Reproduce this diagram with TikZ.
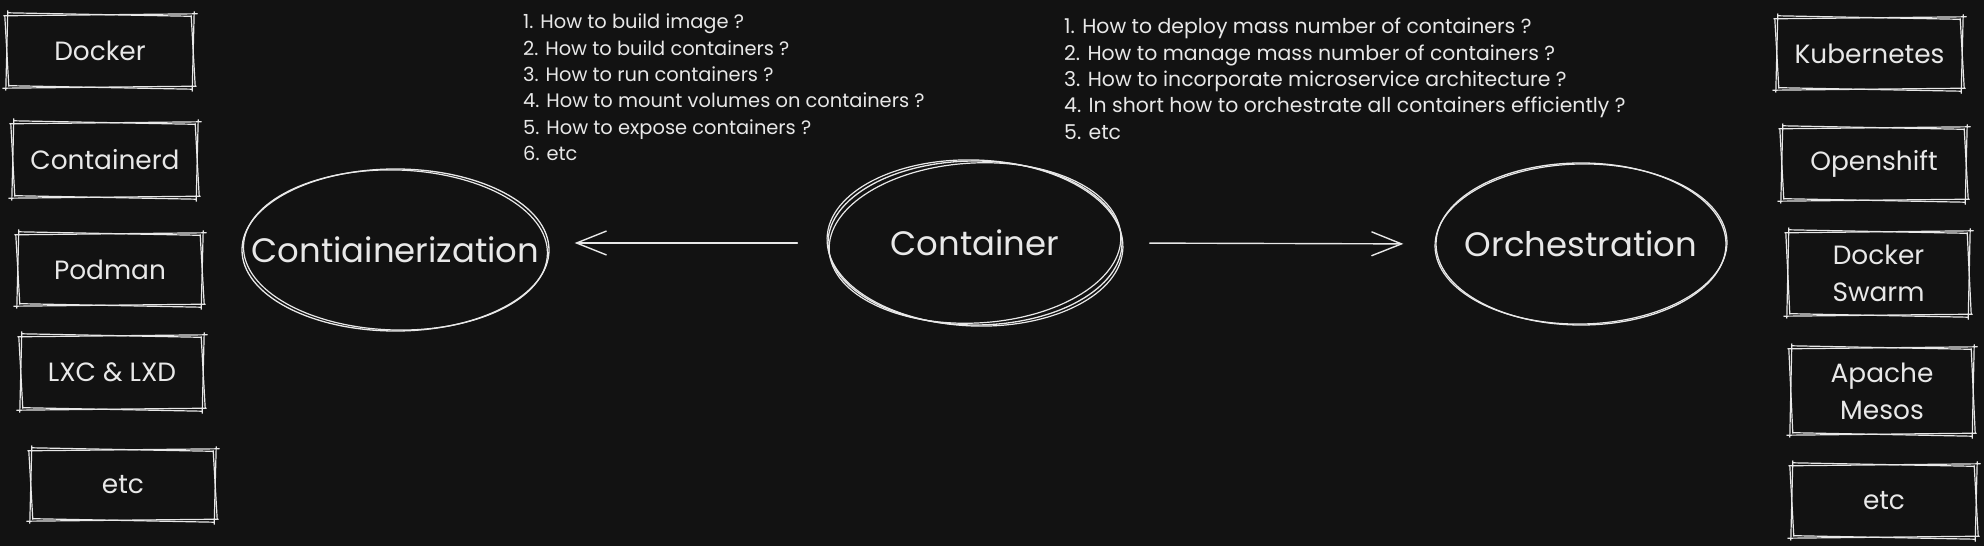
\documentclass[tikz,border=0pt]{standalone}
\usepackage{fontspec}
\setmainfont{Poppins}
\usetikzlibrary{arrows.meta,shapes.geometric}
\definecolor{bg}{HTML}{121212}
\definecolor{ink}{HTML}{E8E8E8}
\newcommand\boxfont{\fontsize{26.5}{37}\selectfont}
\newcommand\ellfont{\fontsize{34}{38}\selectfont}
\newcommand\lstfonta{\fontsize{19.5}{26}\selectfont}
\newcommand\lstfontb{\fontsize{20.5}{26}\selectfont}
\tikzset{
  skline/.style={draw=ink, line width=1.2bp, line cap=round},
  box/.style={rectangle, inner sep=0pt, align=center, text=ink, font=\boxfont},
  oval/.style={ellipse, draw=ink, line width=1.3bp, inner sep=0pt, text=ink, font=\ellfont},
  lst/.style={inner sep=0pt, anchor=base west, text=ink},
  arr/.style={draw=ink, line width=1.4bp, line cap=round,
    -{Straight Barb[length=30bp, width=24bp, line width=1.4bp]}},
}
\newcommand\sketchbox[1]{%
  \draw[skline] ([shift={(-3,1)}]#1.north west) -- ([shift={(4,-1)}]#1.north east);
  \draw[skline] ([shift={(1,-3)}]#1.north east) -- ([shift={(-1,4)}]#1.south east);
  \draw[skline] ([shift={(3,-1)}]#1.south east) -- ([shift={(-4,1)}]#1.south west);
  \draw[skline] ([shift={(-1,3)}]#1.south west) -- ([shift={(1,-4)}]#1.north west);
  \draw[skline] ([shift={(1,-2)}]#1.north west) -- ([shift={(-2,1.5)}]#1.north east);
  \draw[skline] ([shift={(-2,1)}]#1.north east) -- ([shift={(2,-1)}]#1.south east);
  \draw[skline] ([shift={(-1,2)}]#1.south east) -- ([shift={(2,-1.5)}]#1.south west);
  \draw[skline] ([shift={(2,-1)}]#1.south west) -- ([shift={(-2,1)}]#1.north west);
}
\begin{document}
\begin{tikzpicture}[x=1bp, y=-1bp]
\fill[bg] (0,0) rectangle (1984,546);
\useasboundingbox (0,0) rectangle (1984,546);

% left column
\node[box, minimum width=186bp, minimum height=72bp] (docker) at (100,51) {Docker};
\node[box, minimum width=184bp, minimum height=74bp] (containerd) at (105,160) {Containerd};
\node[box, minimum width=184bp, minimum height=71bp] (podman) at (110,269.5) {Podman};
\node[box, minimum width=182bp, minimum height=73bp] (lxc) at (112,372.5) {LXC \& LXD};
\node[box, minimum width=184bp, minimum height=70bp] (etcl) at (123,485) {etc};

% right column
\node[box, minimum width=185bp, minimum height=71bp] (kube) at (1869.5,53.5) {Kubernetes};
\node[box, minimum width=184bp, minimum height=72bp] (oshift) at (1874,164) {Openshift};
\node[box, minimum width=181bp, minimum height=83bp] (swarm) at (1878.5,273.5) {Docker\\Swarm};
\node[box, minimum width=182bp, minimum height=86bp] (mesos) at (1882,391) {Apache\\Mesos};
\node[box, minimum width=184bp, minimum height=72bp] (etcr) at (1884,501) {etc};

\foreach \n in {docker,containerd,podman,lxc,etcl,kube,oshift,swarm,mesos,etcr}{\sketchbox{\n}}

% ellipses
\node[oval, minimum width=307bp, minimum height=162bp] (contz) at (395.5,250) {\makebox[0pt]{Contiainerization}};
\node[oval, minimum width=294bp, minimum height=164bp] (cont) at (975,243) {\makebox[0pt]{Container}};
\node[oval, minimum width=290bp, minimum height=162bp] (orch) at (1581,244) {\makebox[0pt]{Orchestration}};
\draw[skline, rotate around={-1.5:(contz.center)}] (contz.center) ellipse [x radius=152bp, y radius=80bp];
\draw[skline, rotate around={3:(cont.center)}] (cont.center) ellipse [x radius=146bp, y radius=80bp];
\draw[skline, rotate around={-2:(cont.center)}] (cont.center) ellipse [x radius=148bp, y radius=83bp];
\draw[skline, rotate around={1:(orch.center)}] (orch.center) ellipse [x radius=146bp, y radius=80bp];

% connectors
\draw[arr, shorten <=30bp, shorten >=25bp] (cont.west) -- (cont.west -| contz.east);
\draw[arr, shorten <=27bp, shorten >=32bp] (cont.east) -- (orch.west);

% question lists
\foreach \t [count=\i] in {{1. How to build image ?},{2. How to build containers ?},{3. How to run containers ?},{4. How to mount volumes on containers ?},{5. How to expose containers ?},{6. etc}}
  {\node[lst, font=\lstfonta] (qa\i) at (523,{29+26.3*(\i-1)}) {\t};}
\foreach \t [count=\i] in {{1. How to deploy mass number of containers ?},{2. How to manage mass number of containers ?},{3. How to incorporate microservice architecture ?},{4. In short how to orchestrate all containers efficiently ?},{5. etc}}
  {\node[lst, font=\lstfontb] (qb\i) at (1064,{34+26.3*(\i-1)}) {\t};}
\end{tikzpicture}
\end{document}
